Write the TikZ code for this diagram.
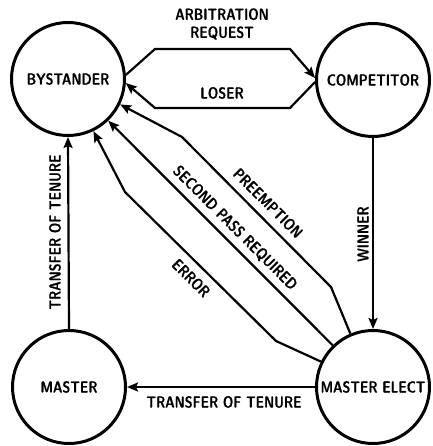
\documentclass[tikz,border=0pt]{standalone}
\usepackage{fontspec}
\newfontfamily\lbl{lmsansdemicond10-regular.otf}[FakeBold=0.8]
\newcommand{\cnd}[1]{\scalebox{0.93}[1]{#1}}
\usetikzlibrary{arrows.meta}
\tikzset{
  stnode/.style={circle, draw, line width=3pt, minimum size=113pt, inner sep=0pt,
    font=\lbl\fontsize{16}{18}\selectfont},
  conn/.style={line width=2.2pt, -{Stealth[length=11pt,width=9pt,inset=2pt]}, line join=miter},
  lab/.style={font=\lbl\fontsize{16}{18}\selectfont, inner sep=0pt},
}
\begin{document}
\begin{tikzpicture}[x=1pt,y=-1pt]
\useasboundingbox (0,0) rectangle (432,446);
\node[stnode] (bys) at (68,79) {\cnd{BYSTANDER}};
\node[stnode] (comp) at (373,80) {\cnd{COMPETITOR}};
\node[stnode] (mast) at (69,387) {\cnd{MASTER}};
\node[stnode] (melect) at (373,387) {\cnd{MASTER ELECT}};

\draw[conn] (bys.4) -- (155,49) -- (290,49) -- (comp.178);
\draw[conn] (comp.182) -- (290,108) -- (155,108) -- (bys.-4);
\draw[conn] (melect.113) -- (331,287) -- (182,137) -- (bys.-26);
\draw[conn] (melect.134) -- (bys.-46);
\draw[conn] (melect.154) -- (276,341) -- (125,192) -- (bys.-64);
\draw[conn] (comp.south) -- (melect.north);
\draw[conn] (mast.north) -- (bys.south);
\draw[conn] (melect.west) -- (mast.east);

\node[lab, align=center] (lArb) at (222,24) {\cnd{ARBITRATION}\\\cnd{REQUEST}};
\node[lab] (lLos) at (222,93) {\cnd{LOSER}};
\node[lab] (lPre) at (268,203) {\rotatebox{-45}{\cnd{PREEMPTION}}};
\node[lab] (lSec) at (235,228) {\rotatebox{-45}{\cnd{SECOND PASS REQUIRED}}};
\node[lab] (lErr) at (191,278) {\rotatebox{-45}{\cnd{ERROR}}};
\node[lab] (lWin) at (363,234) {\rotatebox{90}{\cnd{WINNER}}};
\node[lab] (lTv) at (55,232) {\rotatebox{90}{\cnd{TRANSFER OF TENURE}}};
\node[lab] (lTh) at (224,402) {\cnd{TRANSFER OF TENURE}};
\end{tikzpicture}
\end{document}
